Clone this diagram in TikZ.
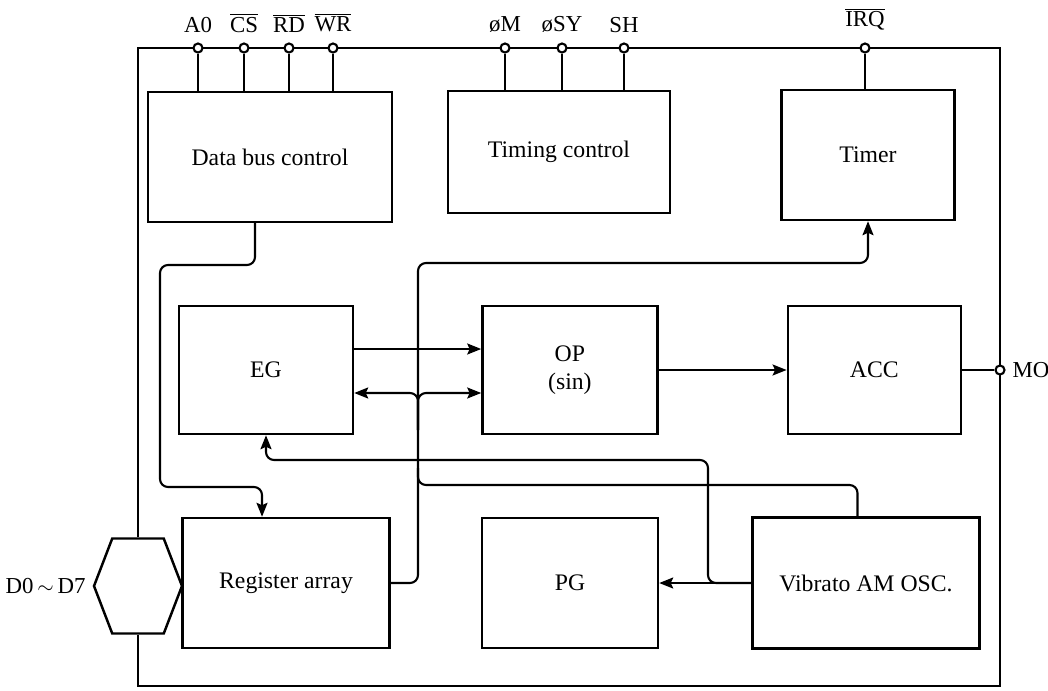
\documentclass[tikz,border=0pt]{standalone}
\usepackage{fontspec}
\setmainfont{Liberation Serif}
\usetikzlibrary{arrows.meta, positioning, shapes.symbols}
\newcommand{\ovl}[1]{$\overline{\hbox{#1}}$}

\begin{document}
\begin{tikzpicture}[
    x=0.02cm, y=-0.02cm,
    block/.style={rectangle, draw, line width=1.4pt, minimum width=3.5cm, minimum height=2.56cm, align=center, font=\fontsize{13.5}{16}\selectfont},
    wire/.style={line width=1.2pt, rounded corners=1.6mm},
    arrow/.style={wire, -{Stealth[length=2.8mm, width=2.2mm, inset=0.5mm]}},
    pindot/.style={circle, draw, fill=white, line width=1.2pt, inner sep=0pt, minimum size=0.18cm},
    siglabel/.style={font=\fontsize{13}{15}\selectfont, inner sep=1pt}
]
\useasboundingbox (0,0) rectangle (1048,690);

% Top row
\node[block, minimum width=4.88cm, minimum height=2.6cm] (dbc) at (270,157) {Data bus control};
\node[block, minimum width=4.44cm, minimum height=2.44cm] (tim) at (559,152) {Timing control};
\node[block, minimum width=3.46cm, minimum height=2.6cm] (timer) at (868,155) {Timer};

% Middle row
\node[block, minimum width=3.48cm] (eg) at (266,370) {EG};
\node[block, right=2.54cm of eg] (op) {OP\\(sin)};
\node[block, minimum width=3.46cm, right=2.56cm of op] (acc) {ACC};

% Bottom row
\node[block, minimum width=4.14cm, minimum height=2.6cm] (reg) at (286,583) {Register array};
\node[block, minimum width=3.52cm, minimum height=2.6cm] (pg) at (570,583) {PG};
\node[block, minimum width=4.54cm, minimum height=2.62cm] (vib) at (866,583) {Vibrato AM OSC.};

% Outer frame and data port
\node[draw, line width=1.4pt, signal, signal to=east and west, signal pointer angle=138, minimum width=1.76cm, minimum height=1.9cm, inner sep=0pt] (dport) at (138,586) {};
\node[siglabel, left=0.1cm of dport] {D0\,$\sim$\,D7};
\coordinate (tl) at (138,48);
\coordinate (tr) at (1000,48);
\coordinate (br) at (1000,686);
\coordinate (bl) at (138,686);
\draw[line width=1.4pt] (dport.north) -- (tl) -- (tr) -- (br) -- (bl) -- (dport.south);

% Pins on the top line
\node[pindot] (a0) at (198,48) {};
\node[pindot] (cs) at (244,48) {};
\node[pindot] (rd) at (289,48) {};
\node[pindot] (wr) at (333,48) {};
\node[pindot] (phm) at (505,48) {};
\node[pindot] (phsy) at (562,48) {};
\node[pindot] (sh) at (624,48) {};
\node[pindot] (irq) at (865,48) {};
\node[siglabel, above=0.16cm of a0] {A0};
\node[siglabel, above=0.16cm of cs] {\ovl{CS}};
\node[siglabel, above=0.16cm of rd] {\ovl{RD}};
\node[siglabel, above=0.16cm of wr] {\ovl{WR}};
\node[siglabel, above=0.16cm of phm] {øM};
\node[siglabel, above=0.16cm of phsy] {øSY};
\node[siglabel, above=0.16cm of sh] {SH};
\node[siglabel, above=0.2cm of irq] {\ovl{IRQ}};
\draw[wire] (a0) -- (a0 |- dbc.north);
\draw[wire] (cs) -- (cs |- dbc.north);
\draw[wire] (rd) -- (rd |- dbc.north);
\draw[wire] (wr) -- (wr |- dbc.north);
\draw[wire] (phm) -- (phm |- tim.north);
\draw[wire] (phsy) -- (phsy |- tim.north);
\draw[wire] (sh) -- (sh |- tim.north);
\draw[wire] (irq) -- (irq |- timer.north);

% Output pin
\node[pindot] (mo) at (1000,370) {};
\node[siglabel, right=0.1cm of mo] {MO};
\draw[wire] (acc.east) -- (mo);

% Data bus to register array
\draw[arrow] ([xshift=-0.3cm]dbc.south) |- (160,265) |- (262,487) -- ([xshift=-0.48cm]reg.north);

% Register array to timer, EG and OP
\coordinate (tap) at (418,430);
\coordinate (join) at (418,468);
\draw[arrow] (reg.east) -| (418,263) -| (timer.south);
\draw[arrow] (tap) |- ([yshift=-0.46cm]eg.east);
\draw[arrow] (tap) |- ([yshift=-0.46cm]op.west);
\draw[arrow] ([yshift=0.42cm]eg.east) -- ([yshift=0.42cm]op.west);
\draw[arrow] (op.east) -- (acc.west);

% Vibrato AM OSC outputs
\draw[arrow] (vib.west) -- (pg.east);
\draw[arrow] (vib.west) -| (708,460) -| (eg.south);
\draw[wire] ([xshift=-0.17cm]vib.north) |- (418,485) -- (join);
\end{tikzpicture}
\end{document}
